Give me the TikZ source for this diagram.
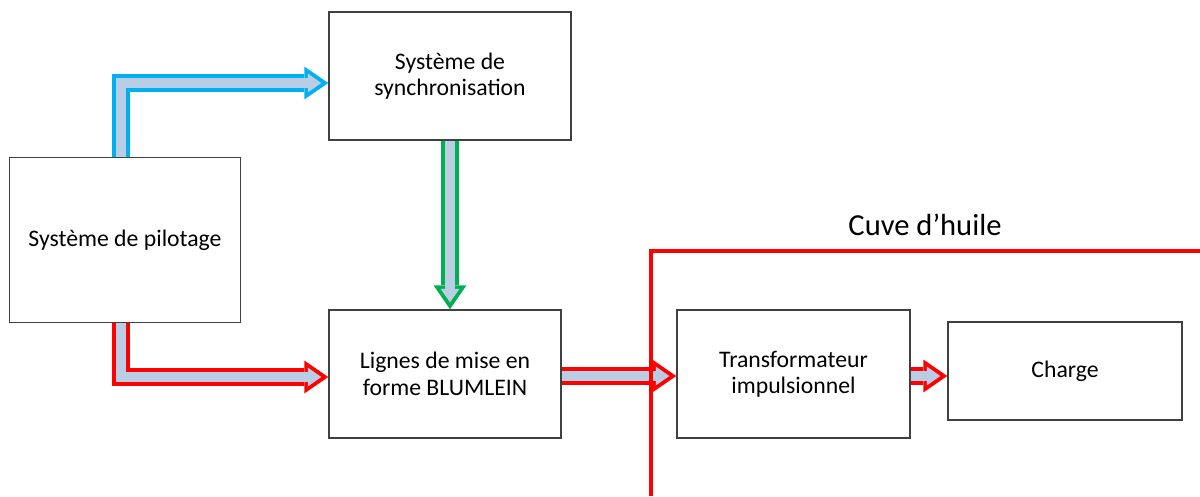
\documentclass[tikz,border=0pt]{standalone}
\usepackage{fontspec}
\setmainfont{Carlito}
\usepackage{xcolor}
\usepackage{tikz}
\usetikzlibrary{arrows.meta,positioning,calc}
\definecolor{bleu}{RGB}{0,176,240}
\definecolor{vert}{RGB}{0,176,80}
\definecolor{rouge}{RGB}{255,0,0}
\definecolor{remplissage}{RGB}{185,205,229}
\definecolor{bord}{RGB}{64,64,64}

\begin{document}
\begin{tikzpicture}[
boite/.style={draw=bord,line width=0.85pt,fill=white,align=center,font=\fontsize{13.5}{15}\selectfont,inner sep=2pt},
fleche/.style={draw=#1,line width=0.36cm,line join=miter,
  -{Triangle[width=0.66cm,length=0.48cm,line width=0pt]},
  postaction={draw=remplissage,line width=0.19cm,shorten >=0.14cm,
  -{Triangle[width=0.38cm,length=0.27cm,line width=0pt]}}},
cuve/.style={draw=rouge,line width=0.075cm}
]
\useasboundingbox (0,0) rectangle (24,-9.92);

\node[boite,minimum width=4.62cm,minimum height=3.3cm] (pilotage) at (2.5,-4.8) {Système de pilotage};
\node[boite,minimum width=4.84cm,minimum height=2.56cm] (synchro) at (9.0,-1.52) {Système de\\synchronisation};
\node[boite,minimum width=4.64cm,minimum height=2.56cm] (blumlein) at (8.9,-7.48) {Lignes de mise en\\forme BLUMLEIN};
\node[boite,minimum width=4.66cm,minimum height=2.56cm] (transfo) at (15.87,-7.48) {Transformateur\\impulsionnel};
\node[boite,minimum width=4.68cm,minimum height=1.96cm] (charge) at (21.3,-7.42) {Charge};

\draw[fleche=bleu] ([xshift=-0.08cm]pilotage.north) |- ([yshift=-0.14cm]synchro.west);
\draw[fleche=vert] (synchro.south) -- (synchro.south |- blumlein.north);
\draw[fleche=rouge] ([xshift=-0.08cm]pilotage.south) |- ([yshift=-0.06cm]blumlein.west);
\draw[fleche=rouge] ([yshift=-0.04cm]blumlein.east) -- ([yshift=-0.04cm]transfo.west);
\draw[fleche=rouge] ([yshift=-0.04cm]transfo.east) -- ([yshift=-0.04cm]transfo.east -| charge.west);

% cuve d'huile
\draw[cuve] (13.02,-9.92) -- (13.02,-5.02) -- (24,-5.02);
\node[font=\fontsize{17.4}{20}\selectfont] (titrecuve) at (18.5,-4.5) {Cuve d’huile};
\end{tikzpicture}
\end{document}
